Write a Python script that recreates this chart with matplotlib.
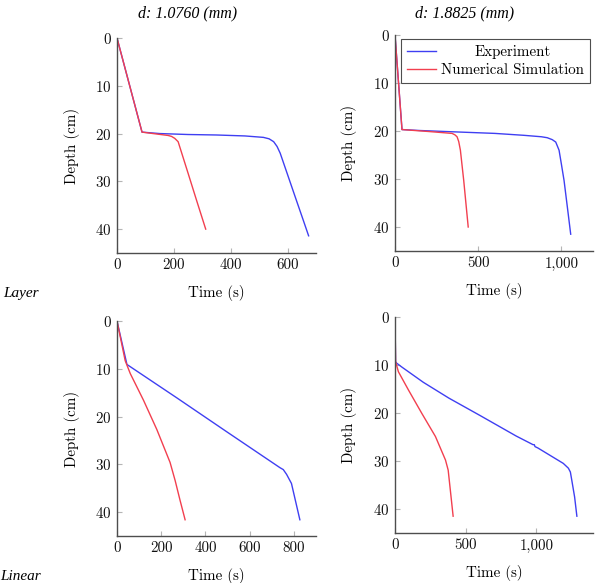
import matplotlib
matplotlib.use("Agg")
import matplotlib.pyplot as plt
from matplotlib.ticker import FuncFormatter

plt.rcParams['font.family'] = ['cmr10', 'DejaVu Serif']
plt.rcParams['mathtext.fontset'] = 'cm'
plt.rcParams['axes.unicode_minus'] = False
plt.rcParams['axes.formatter.use_mathtext'] = True

# ---- data ----
titles = ["d: 1.0760 (mm)", "d: 1.8825 (mm)"]
row_labels = ["Layer", "Linear"]
legend_labels = ["Experiment", "Numerical Simulation"]
xlabel = "Time (s)"
ylabel = "Depth (cm)"

# Layer, d = 1.0760
t_exp_l1 = [0, 88, 150, 250, 350, 450, 515, 535, 551, 563, 574, 600, 630, 655, 674]
d_exp_l1 = [0, 19.7, 20.0, 20.2, 20.3, 20.5, 20.8, 21.1, 21.7, 22.7, 24.1, 28.6, 33.8, 38.1, 41.4]
t_sim_l1 = [0, 88, 140, 180, 192, 203, 215, 250, 280, 312]
d_sim_l1 = [0, 19.7, 20.1, 20.4, 20.6, 21.0, 21.7, 28.3, 34.0, 40.0]

# Layer, d = 1.8825
t_exp_l2 = [0, 42, 150, 373, 600, 775, 880, 915, 945, 966, 986, 1000, 1016, 1040, 1056]
d_exp_l2 = [0, 19.7, 19.9, 20.2, 20.5, 20.9, 21.2, 21.4, 21.8, 22.3, 24.0, 26.9, 30.3, 37.0, 41.5]
t_sim_l2 = [0, 42, 200, 343, 360, 373, 383, 393, 413, 440]
d_sim_l2 = [0, 19.7, 20.1, 20.5, 20.8, 21.2, 22.2, 24.0, 30.3, 40.0]

# Linear, d = 1.0760
t_exp_n1 = [0, 45, 271, 500, 737, 752, 767, 789, 810, 827]
d_exp_n1 = [0, 9.1, 16.1, 23.3, 30.7, 31.1, 32.1, 34.0, 38.2, 41.6]
t_sim_n1 = [0, 37, 60, 120, 180, 240, 263, 285, 308]
d_sim_n1 = [0, 8.3, 11.0, 16.6, 22.7, 29.6, 33.4, 37.5, 41.6]

# Linear, d = 1.8825
t_exp_n2 = [0, 4, 11, 47, 200, 381, 600, 857, 976, 985, 990, 1011, 1190, 1226, 1240, 1250, 1270, 1286]
d_exp_n2 = [0, 9.3, 9.6, 10.4, 13.6, 16.9, 20.5, 24.8, 26.6, 26.6, 27.0, 27.3, 30.5, 31.5, 32.3, 34.0, 37.5, 41.5]
t_sim_n2 = [0, 4, 24, 95, 190, 286, 357, 376, 395, 411]
d_sim_n2 = [0, 9.3, 11.4, 15.2, 20.1, 24.9, 29.8, 31.9, 37.1, 41.5]

xmax = [[700, 1190], [900, 1400]]
xticks = [[[0, 200, 400, 600], [0, 500, 1000]], [[0, 200, 400, 600, 800], [0, 500, 1000]]]
yticks = [0, 10, 20, 30, 40]

panels = [[(t_exp_l1, d_exp_l1, t_sim_l1, d_sim_l1), (t_exp_l2, d_exp_l2, t_sim_l2, d_sim_l2)],
          [(t_exp_n1, d_exp_n1, t_sim_n1, d_sim_n1), (t_exp_n2, d_exp_n2, t_sim_n2, d_sim_n2)]]

W, H = 600, 583
fig = plt.figure(figsize=(6, 5.83), dpi=100)

# axes rectangles in pixels: left, right, top, bottom
rects = [[(117, 316, 38, 253), (395, 593, 35, 251)],
         [(117, 316, 321, 536), (395, 593, 317, 533)]]
ylabel_x = [80, 357]

blue = '#3f3ff2'
red = '#f23f4f'
spine_c = '#4d4d4d'
fs = 10.8

fmt = FuncFormatter(lambda v, p: f"{v:,.0f}")

leg = None
for r in range(2):
    for c in range(2):
        l, rr, t, b = rects[r][c]
        ax = fig.add_axes([l / W, 1 - b / H, (rr - l) / W, (b - t) / H])
        te, de, ts, ds = panels[r][c]
        ax.plot(te, de, color=blue, lw=1.0, label=legend_labels[0])
        ax.plot(ts, ds, color=red, lw=1.0, label=legend_labels[1])
        ax.set_xlim(0, xmax[r][c])
        ax.set_ylim(45, 0)
        ax.set_xticks(xticks[r][c])
        ax.set_yticks(yticks)
        ax.xaxis.set_major_formatter(fmt)
        for s in ['top', 'right']:
            ax.spines[s].set_visible(False)
        for s in ['left', 'bottom']:
            ax.spines[s].set_color(spine_c)
            ax.spines[s].set_linewidth(1.0)
        ax.tick_params(direction='in', length=3.5, width=0.8, color='#b5b5b5',
                       labelsize=fs, labelcolor='#111111', pad=4)
        ax.set_xlabel(xlabel, fontsize=fs)
        ax.set_ylabel(ylabel, fontsize=fs)
        ax.xaxis.set_label_coords(0.5, -0.15)
        ax.yaxis.set_label_coords((ylabel_x[c] - l) / (rr - l), 0.5)
        if r == 0 and c == 1:
            leg = ax.legend(loc='upper right', bbox_to_anchor=(0.985, 0.982), borderaxespad=0,
                            fontsize=fs, frameon=True, fancybox=False, handlelength=1.9,
                            handletextpad=0.35, borderpad=0.4, labelspacing=0.3)
            leg.get_frame().set_edgecolor('#222222')
            leg.get_frame().set_linewidth(0.8)

# center legend entries like pgfplots
renderer = fig.canvas.get_renderer()
widths = [tx.get_window_extent(renderer).width for tx in leg.get_texts()]
shift = max(widths)
for tx, w in zip(leg.get_texts(), widths):
    tx.set_position(((shift - w) / 2, 0))

tfs = 11.5
fig.text(188 / W, 1 - 13 / H, titles[0], ha='center', va='center', fontsize=tfs,
         family='Liberation Serif', style='italic')
fig.text(465 / W, 1 - 13 / H, titles[1], ha='center', va='center', fontsize=tfs,
         family='Liberation Serif', style='italic')
fig.text(3 / W, 1 - 293 / H, row_labels[0], ha='left', va='center', fontsize=11,
         family='Liberation Serif', style='italic')
fig.text(0 / W, 1 - 576 / H, row_labels[1], ha='left', va='center', fontsize=11,
         family='Liberation Serif', style='italic')

fig.savefig("out.png", dpi=100)
